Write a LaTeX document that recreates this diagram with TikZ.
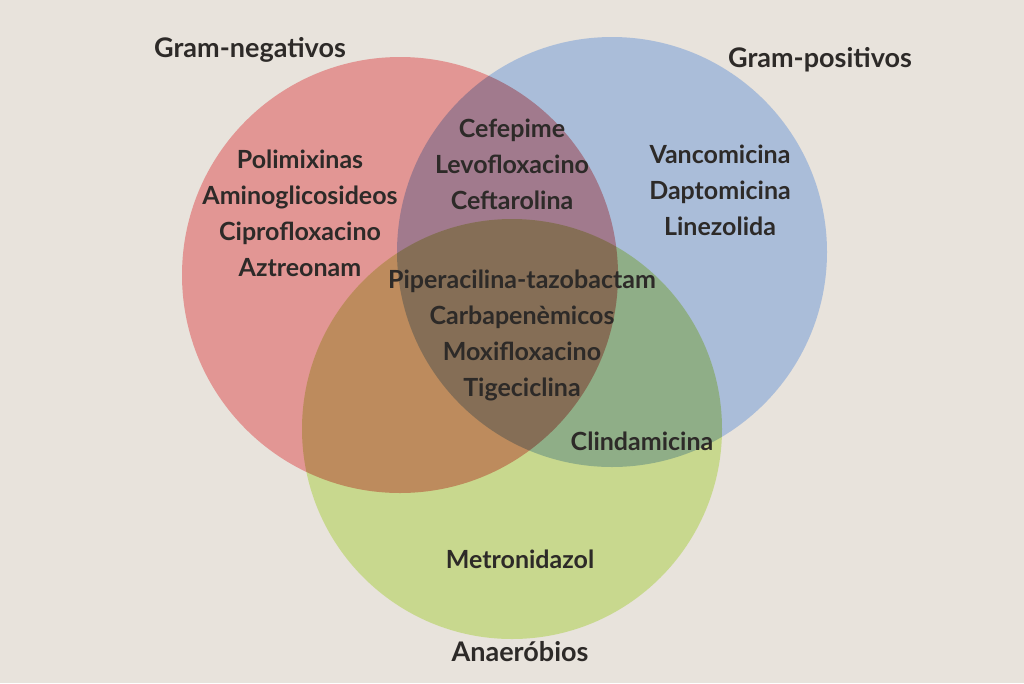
\documentclass[tikz,border=0pt]{standalone}
\usepackage{fontspec}
\setmainfont{Lato}
\definecolor{paper}{RGB}{232,227,220}
\definecolor{negred}{RGB}{222,100,100}
\definecolor{posblue}{RGB}{130,165,215}
\definecolor{anagreen}{RGB}{180,210,90}
\definecolor{ink}{RGB}{45,42,40}
\tikzset{
  setcirc/.style={fill opacity=0.6, draw=none},
  title/.style={font=\fontsize{27}{30}\selectfont\bfseries, text=ink},
  drug/.style={font=\fontsize{25}{36}\selectfont\bfseries, text=ink, align=center}
}
\begin{document}
\begin{tikzpicture}[x=1pt, y=-1pt]
	\useasboundingbox (0,0) rectangle (1024,683);
	\fill[paper] (0,0) rectangle (1024,683);
	% the three sets
	\begin{scope}[blend group=multiply]
	\fill[negred, setcirc] (400,275) circle (218);
	\fill[posblue, setcirc] (612,252) circle (215);
	\fill[anagreen, setcirc] (512,429) circle (210);
	\end{scope}
	% titles
	\node[title] (neg) at (250,50) {Gram-negativos};
	\node[title] (pos) at (820,60) {Gram-positivos};
	\node[title] (ana) at (520,652) {Anaeróbios};
	% drugs
	\node[drug] (negonly) at (300,213) {Polimixinas\\Aminoglicosideos\\Ciprofloxacino\\Aztreonam};
	\node[drug] (negpos) at (512,164) {Cefepime\\Levofloxacino\\Ceftarolina};
	\node[drug] (posonly) at (720,190) {Vancomicina\\Daptomicina\\Linezolida};
	\node[drug] (allthree) at (522,335) {Piperacilina-tazobactam\\Carbapenèmicos\\Moxifloxacino\\Tigeciclina};
	\node[drug] (posana) at (642,441) {Clindamicina};
	\node[drug] (anaonly) at (520,559) {Metronidazol};
\end{tikzpicture}
\end{document}
